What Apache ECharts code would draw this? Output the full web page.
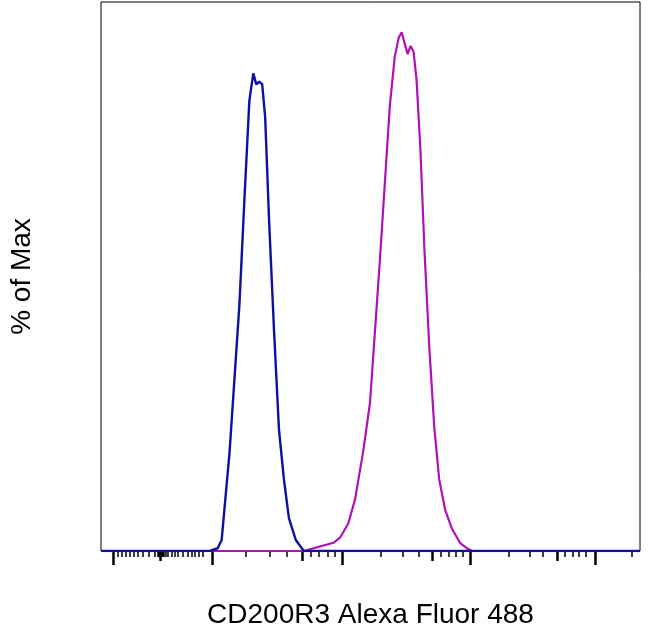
<!DOCTYPE html>
<html>
<head>
<meta charset="utf-8">
<script src="https://cdn.jsdelivr.net/npm/echarts@6/dist/echarts.min.js"></script>
<style>html,body{margin:0;padding:0;background:#fff}#main{width:650px;height:634px}</style>
</head>
<body>
<div id="main"></div>
<script>
// x in channel units (0..545), y in % of Max
var blueX = [0, 110, 118, 122, 130, 140, 145, 150, 154, 157, 160, 163, 166, 170, 175, 180, 185, 190, 197, 205, 545];
var blueY = [0, 0, 0.5, 2, 18, 45, 64, 82, 87, 85, 85.5, 85, 79, 60, 40, 22, 13, 6, 2, 0, 0];
var magX = [0, 205, 215, 225, 235, 242, 250, 257, 265, 272, 277, 282, 287, 292, 297, 301, 304, 307, 310, 313, 316, 319, 323, 327, 332, 337, 342, 348, 355, 363, 370, 375, 545];
var magY = [0, 0, 0.5, 1, 1.5, 2.5, 5, 9.5, 18, 27, 40, 53, 67, 81, 90, 93.5, 94.5, 92.5, 90.5, 92, 91, 86, 73, 55, 37, 22.5, 13, 7.5, 4, 1.5, 0.5, 0, 0];
var majorTicks = [12, 112, 244, 373, 500];
var mediumTicks = [60, 203, 335, 461];
var minorTicks = [17, 21, 25, 29, 33, 37, 42, 48, 54, 57, 58, 59, 61, 62, 63, 65, 67, 72, 75, 78, 83, 88, 92, 95, 99, 103,
  146, 171, 188, 212, 220, 229, 236, 283, 305, 321, 344, 352, 359, 366, 412, 434, 447, 469, 477, 483, 490, 537];

var chart = echarts.init(document.getElementById('main'));
function tickAxis(vals, len, w) {
  return {
    type: 'value', min: 0, max: 545, position: 'bottom',
    axisLine: { show: false }, splitLine: { show: false }, axisLabel: { show: false },
    axisTick: { show: true, inside: false, length: len, customValues: vals, lineStyle: { color: '#000', width: w } }
  };
}
var xAxes = [tickAxis(majorTicks, 14, 2.5), tickAxis(mediumTicks, 10, 2.5), tickAxis(minorTicks, 6, 1.5)];
xAxes[0].name = 'CD200R3 Alexa Fluor 488';
xAxes[0].nameLocation = 'middle';
xAxes[0].nameGap = 50;
xAxes[0].nameTextStyle = { fontFamily: 'Liberation Sans', fontSize: 28, color: '#000' };

function pairs(xs, ys) { return xs.map(function (x, i) { return [x, ys[i]]; }); }

chart.setOption({
  animation: false,
  grid: { left: 95, right: 10, top: 2, bottom: 82, show: true, borderColor: '#000', borderWidth: 1 },
  xAxis: xAxes,
  yAxis: {
    type: 'value', min: 0, max: 100,
    name: '% of Max', nameLocation: 'middle', nameGap: 65, nameRotate: 90,
    nameTextStyle: { fontFamily: 'Liberation Sans', fontSize: 28, color: '#000' },
    axisLine: { show: false }, axisTick: { show: false }, axisLabel: { show: false }, splitLine: { show: false }
  },
  series: [
    { type: 'line', data: pairs(magX, magY), showSymbol: false, lineStyle: { color: '#b010b8', width: 2.2 } },
    { type: 'line', data: pairs(blueX, blueY), showSymbol: false, lineStyle: { color: '#1010a0', width: 2.4 } }
  ]
});
</script>
</body>
</html>
